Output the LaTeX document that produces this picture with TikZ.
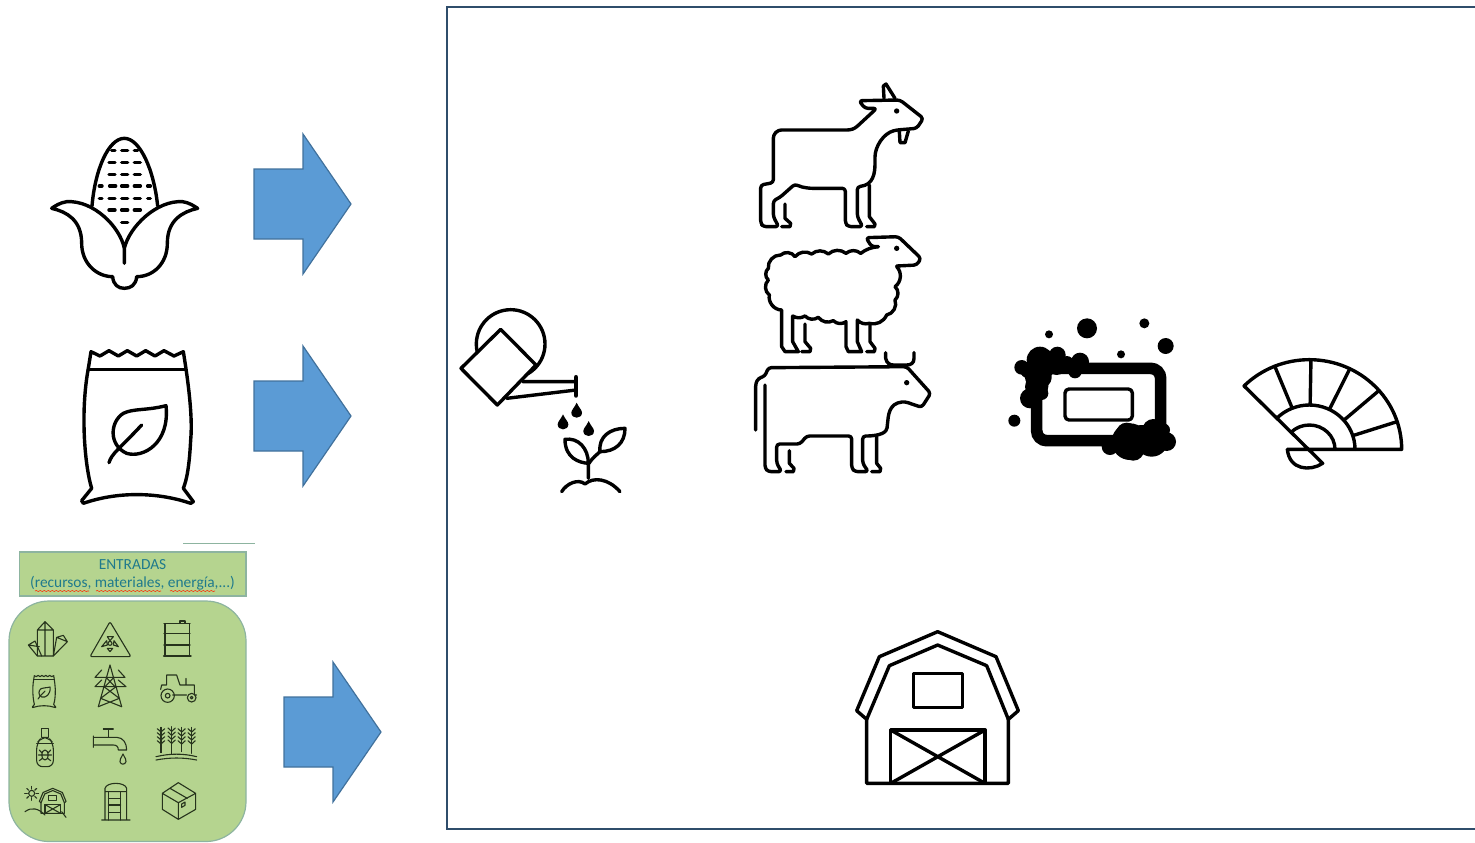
\documentclass[tikz,border=0pt]{standalone}
\usepackage{fontspec}
\setmainfont{Carlito}
\usepackage{xcolor}
\usetikzlibrary{positioning,arrows.meta,decorations.pathmorphing}
\definecolor{nFrame}{HTML}{2F4D6B}
\definecolor{nArrow}{HTML}{5B9BD5}
\definecolor{nArrowEdge}{HTML}{41719C}
\definecolor{nPanel}{HTML}{B5D48F}
\definecolor{nPanelEdge}{HTML}{8DB4A0}
\definecolor{nTeal}{HTML}{1F7A8C}
\definecolor{nTinyInk}{HTML}{26331C}
\tikzset{
  iconline/.style={line join=round, line cap=round},
  bigicon/.style={line width=1.7pt},
  tinyicon/.style={line width=.55pt, color=nTinyInk},
  inputarrow/.style={fill=nArrow, draw=nArrowEdge, line width=.6pt},
  panelbox/.style={fill=nPanel, draw=nPanelEdge, line width=.6pt},
  spellmark/.style={draw=red!70!orange, line width=.3pt, decorate, decoration={snake, amplitude=.25pt, segment length=2pt}},
  bagicon/.pic={
    \draw[iconline] (183,695) -- (210,708) -- (237,692) -- (265,708) -- (292,692) -- (320,708) -- (347,692) -- (375,708) -- (402,692) -- (432,708) -- (460,695)
      .. controls (468,745) and (490,880) .. (482,960) .. controls (478,1040) and (470,1080) .. (460,1105)
      -- (490,1145) -- (482,1150) .. controls (380,1115) and (260,1115) .. (160,1150) -- (155,1142) -- (185,1105)
      .. controls (165,1040) and (150,880) .. (175,745) -- cycle;
    \draw[iconline] (175,748) -- (465,748);
    \draw[iconline] (408,857) .. controls (350,872) and (310,865) .. (280,880) .. controls (240,905) and (235,975) .. (290,1000)
      .. controls (340,1015) and (420,970) .. (408,857) -- cycle;
    \draw[iconline] (237,1028) .. controls (245,1000) and (270,985) .. (335,915);
  },
  barnicon/.pic={
    \draw[iconline] (80,298) -- (50,272) -- (118,110) -- (293,35) -- (468,110) -- (535,272) -- (505,298) -- (505,490) -- (80,490) -- cycle;
    \draw[iconline] (80,298) -- (148,137) -- (293,75) -- (440,137) -- (505,298);
    \draw[iconline] (220,160) rectangle (368,262);
    \draw[iconline] (152,330) rectangle (435,490);
    \draw[iconline] (152,330) -- (435,490) (435,330) -- (152,490);
  }
}
\begin{document}
\begin{tikzpicture}[x=.5pt, y=-.5pt]
  \useasboundingbox (0,0) rectangle (1475,842);
  % frame, open on the right
  \draw[nFrame, line width=1pt] (1476,7) -- (447,7) -- (447,829) -- (1476,829);
  % block arrows
  \foreach \ax/\ay in {254/204, 254/416, 284/732} {
    \draw[inputarrow] (\ax,\ay) ++(0,-35) -- ++(49,0) -- ++(0,-35) -- ++(48,70) -- ++(-48,70) -- ++(0,-35) -- ++(-49,0) -- cycle;
  }
  % corn
  \begin{scope}[shift={(30,120)}, scale=1/3, bigicon]
    \draw[iconline] (186,258) .. controls (195,150) and (235,55) .. (283,55) .. controls (330,55) and (372,150) .. (383,258);
    \foreach \ry/\rx/\rw in {92/250/5, 92/284/9, 92/318/5, 127/246/9, 127/284/9, 127/322/9, 163/246/9, 163/284/9, 163/322/9, 198/212/4, 198/248/9, 198/284/9, 198/322/9, 198/357/4, 235/212/4, 235/246/9, 235/284/9, 235/322/9, 235/357/4, 270/246/9, 270/284/9, 270/322/9, 308/284/9} {
      \draw[iconline] (\rx-\rw,\ry) -- (\rx+\rw,\ry);
    }
    \draw[iconline] (283,430) -- (283,385) .. controls (270,320) and (190,240) .. (110,245) .. controls (90,248) and (75,258) .. (65,265)
      .. controls (110,275) and (155,300) .. (155,370) .. controls (155,430) and (200,470) .. (248,470)
      .. controls (250,495) and (265,505) .. (283,505) .. controls (302,505) and (318,495) .. (320,470)
      .. controls (370,470) and (412,430) .. (412,370) .. controls (412,300) and (458,275) .. (503,265)
      .. controls (492,258) and (478,248) .. (458,245) .. controls (380,240) and (298,320) .. (283,385);
  \end{scope}
  \pic[shift={(30,120)}, scale=1/3, bigicon] {bagicon};
  % watering can and sprout
  \begin{scope}[shift={(450,300)}, scale=1/3, bigicon]
    \draw[iconline] (182,132) circle (103);
    \draw[iconline, fill=white] (152,88) -- (258,195) -- (142,315) -- (33,205) -- cycle;
    \draw[iconline] (218,245) -- (378,245) (170,295) -- (378,270);
    \draw[iconline, line width=2.4pt] (378,232) -- (378,286);
    \foreach \dx/\dy in {380/308, 339/343, 416/363} {
      \fill (\dx,\dy) .. controls (\dx+6,\dy+14) and (\dx+16,\dy+22) .. (\dx+16,\dy+30) .. controls (\dx+16,\dy+50) and (\dx-16,\dy+50) .. (\dx-16,\dy+30) .. controls (\dx-16,\dy+22) and (\dx-6,\dy+14) .. (\dx,\dy) -- cycle;
    }
    \draw[iconline] (415,535) -- (415,490) .. controls (388,488) and (345,475) .. (345,418) .. controls (385,412) and (415,445) .. (415,490);
    \draw[iconline] (417,490) .. controls (430,470) and (440,465) .. (450,455) .. controls (495,455) and (525,430) .. (525,385) .. controls (480,385) and (445,410) .. (450,455);
    \draw[iconline] (335,575) .. controls (350,550) and (385,535) .. (405,552) .. controls (430,530) and (475,535) .. (510,575);
  \end{scope}
  % goat, sheep, cow
  \begin{scope}[shift={(740,70)}, scale=1/3, bigicon]
    \draw[iconline, rounded corners=1.5pt] (410,115) -- (375,115) -- (357,92) -- (480,90) -- (550,145) -- (530,175) -- (470,180)
      .. controls (430,190) and (405,230) .. (405,270) .. controls (405,310) and (400,345) .. (352,350)
      -- (352,440) -- (368,470) -- (325,470) -- (316,460) -- (316,355) -- (210,355) .. controls (190,352) and (180,350) .. (165,342)
      -- (120,382) -- (100,392) -- (100,440) -- (116,470) -- (70,470) -- (62,460) -- (62,345) -- (100,338) -- (100,195) -- (115,180) -- (330,180) -- (345,175) -- cycle;
    \draw[iconline] (388,345) -- (388,440) -- (405,462) -- (403,470) -- (380,470);
    \draw[iconline] (135,402) -- (135,445) -- (152,460) -- (150,470) -- (125,470);
    \draw[iconline] (432,85) -- (430,48) -- (438,42) -- (465,85);
    \draw[iconline] (478,185) -- (480,218) -- (495,218) -- (505,183);
    \fill (470,123) circle (8);
    % sheep
    \draw[iconline, rounded corners=1.5pt] (415,530) -- (395,530) -- (378,503) -- (475,500) -- (543,565) -- (530,585) -- (470,588);
    \draw[iconline] (415,530) to[bend right=15] (362,550) to[bend right=40] (318,550) to[bend right=40] (265,552) to[bend right=40] (215,552) to[bend right=40] (165,560)
      to[bend right=50] (122,555) to[bend right=50] (85,595) to[bend right=50] (85,630) to[bend right=50] (88,675) to[bend right=50] (125,720)
      -- (125,830) -- (135,845) -- (175,845) -- (158,815) -- (158,738) to[bend right=30] (195,738) to[bend right=40] (235,742) to[bend right=40] (280,752) to[bend right=40] (318,755)
      -- (318,830) -- (325,845) -- (365,845) -- (352,815) -- (352,750) to[bend right=30] (388,760) to[bend right=40] (440,735) to[bend right=50] (465,690) to[bend right=50] (465,650)
      to[bend right=50] (470,590);
    \draw[iconline] (195,762) -- (195,815) -- (212,835) -- (210,845) -- (185,845);
    \draw[iconline] (390,762) -- (390,815) -- (405,835) -- (403,845) -- (380,845);
    \fill (470,535) circle (8);
    % cow
    \draw[iconline] (437,848) -- (437,865) .. controls (440,880) and (450,885) .. (460,885) -- (500,885) .. controls (512,885) and (522,880) .. (522,865) -- (522,848);
    \draw[iconline, rounded corners=1.5pt] (47,1080) -- (47,940) -- (55,925) -- (75,918) -- (85,893) -- (500,890) -- (572,970) -- (545,1012) -- (495,995)
      .. controls (445,1000) and (445,1040) .. (442,1065) .. controls (440,1085) and (425,1098) .. (368,1098) -- (368,1180) -- (385,1205) -- (345,1205) -- (335,1195) -- (335,1098) -- (200,1098) -- (180,1122) -- (110,1122)
      -- (110,1180) -- (125,1205) -- (85,1205) -- (75,1195) -- (75,945);
    \draw[iconline] (410,1098) -- (410,1180) -- (422,1195) -- (420,1205) -- (395,1205);
    \draw[iconline] (148,1142) -- (148,1180) -- (162,1195) -- (160,1205) -- (138,1205);
    \fill (500,938) circle (8);
  \end{scope}
  % soap and fan
  \begin{scope}[shift={(1000,310)}, scale=1/3, bigicon]
    \draw[line width=5.8pt, rounded corners=5pt] (110,175) rectangle (482,392);
    \draw[iconline, line width=1.7pt, rounded corners=2pt] (195,237) rectangle (397,330);
    \foreach \bx/\by/\br in {261/55/30, 147/73/12, 433/40/15, 497/108/24, 363/133/12, 43/332/18,
      65/172/22, 120/150/40, 172/135/25, 115/200/40, 240/155/27, 225/185/20, 110/230/35, 90/265/30, 125/250/20, 170/165/30, 85/180/25, 140/175/25, 200/160/22,
      390/395/55, 330/410/25, 455/390/50, 460/360/33, 500/395/28, 490/360/20, 400/420/32, 425/385/40, 380/370/32} {
      \fill (\bx,\by) circle (\br);
    }
    \draw[iconline] (862,418) -- (1205,418) arc[start angle=0, end angle=-135, x radius=277, y radius=269] -- (968,460)
      .. controls (930,485) and (868,480) .. (862,418);
    \draw[iconline] (1065,418) arc[start angle=0, end angle=-135, x radius=137, y radius=133];
    \draw[iconline] (1005,418) arc[start angle=0, end angle=-135, x radius=77, y radius=73];
    \foreach \ra in {18, 41, 64, 89, 112} {
      \draw[iconline] ([shift={(928,418)}]-\ra:137 and 133) -- ([shift={(928,418)}]-\ra:277 and 269);
    }
  \end{scope}
  % barn
  \pic[shift={(840,620)}, scale=1/3, bigicon] {barnicon};
  % inputs panel
  \draw[nPanelEdge, line width=.6pt] (183,543.5) -- (255,543.5);
  \draw[panelbox] (19.5,552) rectangle (246,596);
  \draw[panelbox, rounded corners=20pt] (9,601) rectangle (246,841.5);
  \node[text=nTeal, font=\fontsize{7.7}{9}\selectfont, align=center] (entradas) at (132.5,574.5) {ENTRADAS\\(recursos, materiales, energía,...)};
  \draw[spellmark] (35,591) -- (89,591);
  \draw[spellmark] (96,591) -- (161,591);
  \draw[spellmark] (170,591) -- (215,591);
  \begin{scope}[shift={(0,530)}, scale=1/3, tinyicon]
    % crystals
    \draw[iconline] (112,378) -- (112,300) -- (135,275) -- (160,300) -- (160,378) -- cycle (112,300) -- (160,300) (135,275) -- (135,378);
    \draw[iconline] (112,378) -- (85,345) -- (105,333) -- (125,378) (85,345) -- (118,350);
    \draw[iconline] (160,378) -- (170,322) -- (190,316) -- (202,335) -- cycle (170,322) -- (202,335);
    % radiation sign
    \draw[iconline, rounded corners=1pt] (330,275) -- (393,380) -- (270,380) -- cycle;
    \draw[iconline] (330,340) circle (6);
    \draw[iconline] (322,320) -- (340,320) -- (330,332) -- cycle (305,350) -- (322,345) -- (320,332) -- cycle (340,345) -- (355,350) -- (342,332) -- cycle (322,355) -- (338,355) -- (330,365) -- cycle;
    % drum
    \draw[iconline] (495,280) rectangle (568,378) (492,310) -- (570,310) (492,345) -- (570,345);
    \draw[iconline] (492,280) -- (570,280) (540,280) -- (540,273) -- (555,273) -- (555,280);
    \draw[iconline, line width=1.2pt] (492,378) -- (572,378);
    % pylon
    \draw[iconline] (330,405) -- (295,530) (330,405) -- (365,530) (285,442) -- (375,442) (285,470) -- (378,470) (305,420) -- (285,442) (355,420) -- (375,442) (305,450) -- (285,470) (355,450) -- (378,470);
    \draw[iconline] (312,470) -- (358,505) -- (295,530) (348,470) -- (302,505) -- (365,530) (318,442) -- (345,470) (342,442) -- (315,470);
    % tractor
    \draw[iconline] (482,478) -- (485,465) -- (500,465) -- (500,435) -- (530,435) -- (540,465) -- (583,465) -- (583,495) -- (590,495) (518,495) -- (560,495) (558,465) -- (558,445);
    \draw[iconline] (503,497) circle (20) (503,497) circle (7) (575,503) circle (13) (575,503) circle (4);
    % spray can
    \draw[iconline, rounded corners=3pt] (110,640) -- (110,710) -- (160,710) -- (160,640) -- (145,622) -- (125,622) -- cycle;
    \draw[iconline] (110,640) -- (160,640) (125,622) -- (125,595) -- (145,595) -- (145,622);
    \draw[iconline] (135,675) ellipse (10 and 15) (118,660) -- (125,668) (152,660) -- (145,668) (115,675) -- (155,675) (118,692) -- (127,685) (152,692) -- (143,685);
    % tap
    \draw[iconline] (280,618) -- (280,652) (280,622) -- (350,622) .. controls (370,622) and (380,640) .. (380,660) -- (355,660) .. controls (355,650) and (350,645) .. (340,645) -- (280,645);
    \draw[iconline] (310,597) -- (340,597) (325,597) -- (325,622);
    \draw[iconline] (369,672) .. controls (375,685) and (380,690) .. (378,695) .. controls (375,705) and (362,705) .. (360,695) .. controls (358,690) and (363,685) .. (369,672) -- cycle;
    % wheat
    \foreach \wx/\wtop/\wbot in {483/592/668, 515/590/672, 545/592/665, 575/592/670} {
      \draw[iconline] (\wx,\wtop) -- (\wx,\wbot);
      \foreach \wy in {0,12,24,36} {
        \draw[iconline] (\wx,\wtop+\wy+14) -- (\wx-11,\wtop+\wy+4) (\wx,\wtop+\wy+14) -- (\wx+11,\wtop+\wy+4);
      }
    }
    \draw[iconline] (468,680) .. controls (510,670) and (550,670) .. (590,680) (468,690) .. controls (510,682) and (550,682) .. (590,690);
    % sun and hill
    \draw[iconline] (95,790) circle (9);
    \foreach \sa in {0,45,...,315} {
      \draw[iconline] ([shift={(95,790)}]\sa:13) -- ([shift={(95,790)}]\sa:21);
    }
    \draw[iconline] (75,845) .. controls (95,830) and (115,835) .. (135,855);
    \draw[iconline] (185,845) -- (198,862);
    % silo
    \draw[iconline] (315,870) -- (315,775) .. controls (320,755) and (375,755) .. (380,775) -- (380,870) (305,870) -- (390,870) (315,785) -- (380,785);
    \draw[iconline] (325,785) -- (325,870) (362,785) -- (362,870) (325,805) -- (362,805) (325,825) -- (362,825) (325,848) -- (362,848);
    % box
    \draw[iconline] (535,758) -- (587,790) -- (587,838) -- (535,868) -- (487,838) -- (487,790) -- cycle (487,790) -- (535,818) -- (587,790) (535,818) -- (535,868) (510,775) -- (562,805);
    \draw[iconline] (545,822) -- (555,816) -- (555,826) -- (545,832) -- cycle;
  \end{scope}
  \pic[shift={(21.5,627)}, scale=.07, tinyicon] {bagicon};
  \pic[shift={(36.6,786.4)}, scale=.055, tinyicon] {barnicon};
\end{tikzpicture}
\end{document}
